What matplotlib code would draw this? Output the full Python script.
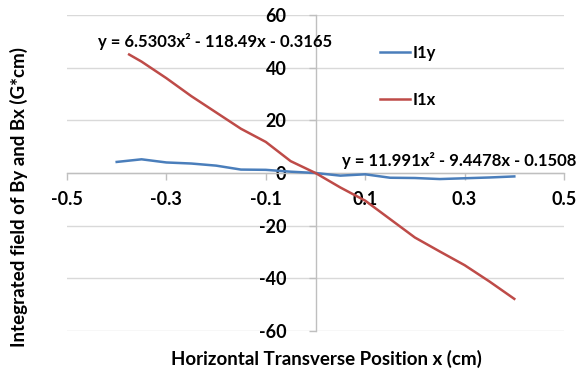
import matplotlib
matplotlib.use("Agg")
import matplotlib.pyplot as plt
from matplotlib.lines import Line2D

plt.rcParams['font.family'] = ['Lato', 'DejaVu Sans']
plt.rcParams['font.weight'] = 'bold'
plt.rcParams['axes.unicode_minus'] = False

# Data
x_y = [-0.4, -0.35, -0.3, -0.25, -0.2, -0.15, -0.1, -0.05, 0.0, 0.05, 0.1, 0.15, 0.2, 0.25, 0.3, 0.35, 0.4]
I1y = [4.2, 5.2, 4.0, 3.6, 2.8, 1.3, 1.2, 0.5, 0.0, -1.0, -0.5, -1.8, -1.9, -2.3, -2.0, -1.7, -1.3]
x_x = [-0.375, -0.35, -0.3, -0.25, -0.2, -0.15, -0.1, -0.05, 0.0, 0.05, 0.1, 0.15, 0.2, 0.25, 0.3, 0.35, 0.4]
I1x = [45.0, 42.3, 36.0, 29.2, 23.0, 16.8, 11.8, 4.5, 0.0, -5.5, -10.5, -17.5, -24.5, -29.8, -35.0, -41.2, -47.8]
x_ticks = [-0.5, -0.3, -0.1, 0.1, 0.3, 0.5]
x_tick_labels = ['-0.5', '-0.3', '-0.1', '0.1', '0.3', '0.5']
y_ticks = [-60, -40, -20, 0, 20, 40, 60]
eq_x = 'y = 6.5303x² - 118.49x - 0.3165'
eq_y = 'y = 11.991x² - 9.4478x - 0.1508'

BLUE = '#4a7ebb'
RED = '#be4b48'
AXC = '#bfbfbf'
GRID = '#d9d9d9'
TFS = 13
LFS = 13.5
EFS = 12

fig = plt.figure(figsize=(5.87, 3.72), dpi=100)
ax = fig.add_axes([67/587, 1-331/372, (564-67)/587, (331-15)/372])
ax.set_xlim(-0.5, 0.5)
ax.set_ylim(-60, 60)

ax.plot(x_y, I1y, color=BLUE, lw=1.8, label='I1y', zorder=3)
ax.plot(x_x, I1x, color=RED, lw=1.8, label='I1x', zorder=3)

for s in ['top', 'right']:
    ax.spines[s].set_visible(False)
ax.spines['left'].set_position(('data', 0))
ax.spines['bottom'].set_position(('data', 0))
for s in ['left', 'bottom']:
    ax.spines[s].set_color(AXC)
    ax.spines[s].set_linewidth(1.0)

ax.set_xticks(x_ticks)
ax.set_xticklabels(x_tick_labels)
ax.set_yticks(y_ticks)
ax.tick_params(axis='x', direction='out', length=5, width=1, color=AXC, pad=8, labelsize=TFS)
ax.tick_params(axis='y', direction='out', length=5, width=1, color=AXC, pad=16, labelsize=TFS)
ax.yaxis.grid(True, color=GRID, lw=1.0)
ax.set_axisbelow(True)
for lab in ax.get_xticklabels() + ax.get_yticklabels():
    lab.set_fontweight('bold')

fig.text(326/587, 1-359/372, 'Horizontal Transverse Position x (cm)', ha='center', va='center',
         fontsize=LFS, fontweight='bold')
fig.text(19/587, 1-197/372, 'Integrated field of By and Bx (G*cm)', ha='center', va='center',
         rotation=90, fontsize=LFS, fontweight='bold')

fig.text(215/587, 1-42/372, eq_x, ha='center', va='center', fontsize=EFS, fontweight='bold')
fig.text(342/587, 1-160/372, eq_y, ha='left', va='center', fontsize=EFS, fontweight='bold')

handles = [Line2D([], [], color=BLUE, lw=1.8), Line2D([], [], color=RED, lw=1.8)]
leg = ax.legend(handles, ['I1y', 'I1x'], loc='upper left', bbox_to_anchor=(380/587, 1-45/372),
                bbox_transform=fig.transFigure, frameon=False, handlelength=1.8,
                handletextpad=0.15, labelspacing=1.85, borderpad=0, borderaxespad=0,
                prop={'size': EFS, 'weight': 'bold'})

fig.savefig('out.png', dpi=100, facecolor='white')
